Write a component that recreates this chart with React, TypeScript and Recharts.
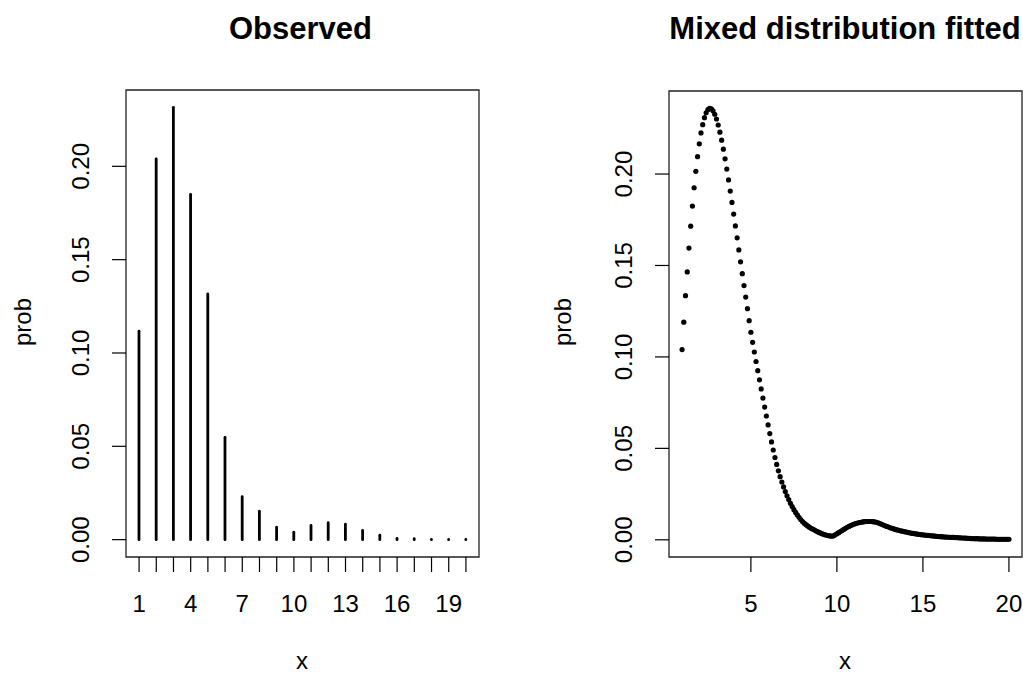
import React from 'react'
import { ComposedChart, Bar, Scatter, XAxis, YAxis, ReferenceArea } from 'recharts'

// observed frequencies, x = 1..20
const observedX = [1, 2, 3, 4, 5, 6, 7, 8, 9, 10, 11, 12, 13, 14, 15, 16, 17, 18, 19, 20]
const observedProb = [
  0.1117, 0.204, 0.2316, 0.185, 0.1316, 0.0548, 0.023, 0.0152, 0.0067, 0.004,
  0.0076, 0.0091, 0.0083, 0.0049, 0.0024, 0.0006, 0.0005, 0.0001, 0.0001, 0.0001
]
const observedXLabels = [1, 4, 7, 10, 13, 16, 19]
const probTicks = [0, 0.05, 0.1, 0.15, 0.2]

// fitted density, evaluated on a grid from 1 to 20 by 0.1
const fittedStart = 1
const fittedStep = 0.1
const fittedProb = [
  0.104, 0.119, 0.1335, 0.1465, 0.1595, 0.1715, 0.1825, 0.1925, 0.2015, 0.2095,
  0.2165, 0.2225, 0.227, 0.2308, 0.2335, 0.2352, 0.2359, 0.2357, 0.2346, 0.2327,
  0.2301, 0.2268, 0.2229, 0.2185, 0.2136, 0.2083, 0.2027, 0.1968, 0.1907, 0.1845,
  0.1781, 0.1716, 0.1651, 0.1585, 0.152, 0.1455, 0.139, 0.1327, 0.1264, 0.1198,
  0.1135, 0.108, 0.1027, 0.0975, 0.0925, 0.0875, 0.0825, 0.0775, 0.0726, 0.0677,
  0.0628, 0.0581, 0.0535, 0.0491, 0.045, 0.0412, 0.0377, 0.0345, 0.0316, 0.0289,
  0.0264, 0.0241, 0.022, 0.02, 0.0182, 0.0165, 0.015, 0.0136, 0.0123, 0.0111,
  0.01, 0.0091, 0.0083, 0.0076, 0.0069, 0.0063, 0.0058, 0.0053, 0.0048, 0.0043,
  0.0039, 0.0035, 0.0031, 0.0028, 0.0025, 0.0023, 0.0021, 0.002, 0.0022, 0.0027,
  0.0033, 0.0039, 0.0045, 0.0051, 0.0057, 0.0063, 0.0068, 0.0073, 0.0078, 0.0082,
  0.0086, 0.0089, 0.0092, 0.0094, 0.0096, 0.0098, 0.0099, 0.01, 0.01, 0.01,
  0.01, 0.0099, 0.0098, 0.0096, 0.0093, 0.0089, 0.0085, 0.0081, 0.0077, 0.0073,
  0.007, 0.0066, 0.0063, 0.006, 0.0057, 0.0054, 0.0052, 0.0049, 0.0047, 0.0045,
  0.0043, 0.0041, 0.0039, 0.0037, 0.0035, 0.0034, 0.0032, 0.0031, 0.0029, 0.0028,
  0.0027, 0.0026, 0.0025, 0.0024, 0.0023, 0.0022, 0.0021, 0.002, 0.0019, 0.0018,
  0.0017, 0.0017, 0.0016, 0.0015, 0.0015, 0.0014, 0.0014, 0.0013, 0.0013, 0.0012,
  0.0012, 0.0011, 0.0011, 0.001, 0.001, 0.0009, 0.0008, 0.0008, 0.0007, 0.0007,
  0.0006, 0.0006, 0.0006, 0.0005, 0.0005, 0.0005, 0.0005, 0.0004, 0.0004, 0.0004,
  0.0004, 0.0004, 0.0004, 0.0003, 0.0003, 0.0003, 0.0003, 0.0003, 0.0003, 0.0003,
  0.0003
]
const fittedXTicks = [5, 10, 15, 20]

const font = '"Liberation Sans", Arial, sans-serif'

const observedData = observedX.map((x, i) => ({ x, prob: observedProb[i] }))
const fittedData = fittedProb.map((p, i) => ({ x: +(fittedStart + i * fittedStep).toFixed(1), prob: p }))

function XTick(props: any) {
  const { x, y, payload, labels } = props
  if (labels && !labels.includes(payload.value)) return null
  return (
    <text x={x} y={y + 38} textAnchor="middle" fontSize={24} fontFamily={font} fill="#000">
      {payload.value}
    </text>
  )
}

function YTick(props: any) {
  const { x, y, payload } = props
  const bx = x - 21
  return (
    <text x={bx} y={y} transform={`rotate(-90, ${bx}, ${y})`} textAnchor="middle"
      fontSize={24} fontFamily={font} fill="#000">
      {payload.value.toFixed(2)}
    </text>
  )
}

// R type="h" style vertical line with round caps
function Spike(props: any) {
  const { x, y, width, height } = props
  const cx = x + width / 2
  return <line x1={cx} y1={y} x2={cx} y2={y + height} stroke="#000" strokeWidth={2.8} strokeLinecap="round" />
}

function Dot(props: any) {
  return <circle cx={props.cx} cy={props.cy} r={2.6} fill="#000" />
}

const obsXDomain = [0.24, 20.76]
const obsYDomain = [-0.0093, 0.2409]
const fitXDomain = [0.24, 20.76]
const fitYDomain = [-0.0094, 0.2454]

export default function App() {
  return (
    <div style={{ position: 'absolute', left: 0, top: 0, width: 1023, height: 675, background: '#fff' }}>
      <div style={{ position: 'absolute', left: 0, top: 0 }}>
        <ComposedChart width={512} height={675} data={observedData}
          margin={{ top: 90, right: 33, bottom: 58, left: 26 }}>
          <XAxis dataKey="x" type="number" domain={obsXDomain} allowDataOverflow ticks={observedX}
            interval={0} height={60} tickSize={15} axisLine={false}
            tickLine={{ stroke: '#000', strokeWidth: 1.2 }} tick={<XTick labels={observedXLabels} />} />
          <YAxis type="number" domain={obsYDomain} allowDataOverflow ticks={probTicks} width={100}
            tickSize={14} axisLine={false} tickLine={{ stroke: '#000', strokeWidth: 1.2 }} tick={<YTick />} />
          <ReferenceArea x1={obsXDomain[0]} x2={obsXDomain[1]} y1={obsYDomain[0]} y2={obsYDomain[1]}
            fill="none" fillOpacity={0} stroke="#222" strokeWidth={1.3} />
          <Bar dataKey="prob" barSize={3} shape={<Spike />} isAnimationActive={false} />
        </ComposedChart>
      </div>
      <div style={{ position: 'absolute', left: 512, top: 0 }}>
        <ComposedChart width={511} height={675} data={fittedData}
          margin={{ top: 91, right: 1, bottom: 58, left: 57 }}>
          <XAxis dataKey="x" type="number" domain={fitXDomain} allowDataOverflow ticks={fittedXTicks}
            interval={0} height={60} tickSize={15} axisLine={false}
            tickLine={{ stroke: '#000', strokeWidth: 1.2 }} tick={<XTick />} />
          <YAxis type="number" domain={fitYDomain} allowDataOverflow ticks={probTicks} width={100}
            tickSize={14} axisLine={false} tickLine={{ stroke: '#000', strokeWidth: 1.2 }} tick={<YTick />} />
          <ReferenceArea x1={fitXDomain[0]} x2={fitXDomain[1]} y1={fitYDomain[0]} y2={fitYDomain[1]}
            fill="none" fillOpacity={0} stroke="#222" strokeWidth={1.3} />
          <Scatter dataKey="prob" shape={<Dot />} isAnimationActive={false} />
        </ComposedChart>
      </div>
      <svg width={1023} height={675} style={{ position: 'absolute', left: 0, top: 0, pointerEvents: 'none' }}
        fontFamily={font}>
        <text x={300.5} y={39} textAnchor="middle" fontSize={31} fontWeight="bold">Observed</text>
        <text x={845} y={39} textAnchor="middle" fontSize={31} fontWeight="bold">Mixed distribution fitted</text>
        <text x={302} y={669} textAnchor="middle" fontSize={24}>x</text>
        <text x={845} y={669} textAnchor="middle" fontSize={24}>x</text>
        <text x={31} y={322} textAnchor="middle" fontSize={24} transform="rotate(-90, 31, 322)">prob</text>
        <text x={571} y={322} textAnchor="middle" fontSize={24} transform="rotate(-90, 571, 322)">prob</text>
      </svg>
    </div>
  )
}
